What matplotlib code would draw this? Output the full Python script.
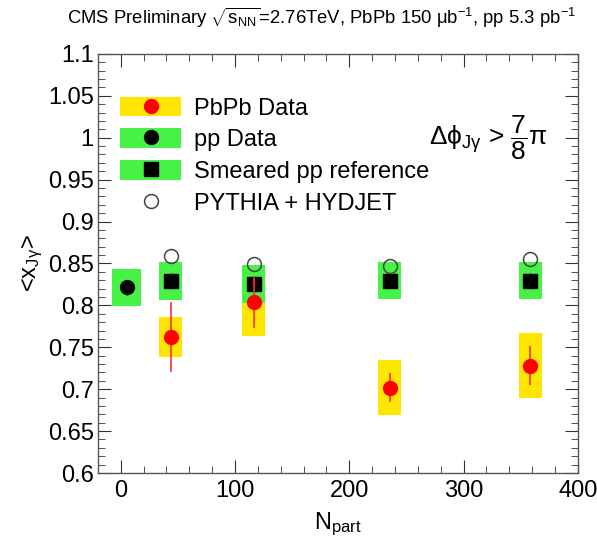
import numpy as np
import matplotlib
matplotlib.use('Agg')
import matplotlib.pyplot as plt
from matplotlib.patches import Rectangle, Patch
from matplotlib.lines import Line2D
from matplotlib.legend_handler import HandlerTuple
from matplotlib.ticker import MultipleLocator, FormatStrFormatter

plt.rcParams['font.family'] = ['Liberation Sans', 'DejaVu Sans']
plt.rcParams['mathtext.fontset'] = 'custom'
plt.rcParams['mathtext.rm'] = 'Liberation Sans'
plt.rcParams['mathtext.it'] = 'Liberation Sans:italic'
plt.rcParams['mathtext.bf'] = 'Liberation Sans:bold'

# PbPb data
pbpb_npart = [43.8, 116.2, 235.4, 358.5]
pbpb_x = [0.762, 0.804, 0.702, 0.728]
pbpb_stat = [0.042, 0.031, 0.017, 0.023]
pbpb_sys = [0.024, 0.041, 0.033, 0.039]

# pp data (plotted at low Npart)
pp_npart = [5.1]
pp_x = [0.8215]
pp_stat = [0.009]
pp_sys = [0.022]

# smeared pp reference
smr_npart = [43.8, 116.2, 235.4, 358.5]
smr_x = [0.8295, 0.8255, 0.8295, 0.8295]
smr_stat = [0.009, 0.009, 0.009, 0.009]
smr_sys = [0.0227, 0.0224, 0.0223, 0.0223]

# PYTHIA + HYDJET
mc_npart = [43.8, 116.2, 235.4, 358.5]
mc_x = [0.8593, 0.8494, 0.8474, 0.8557]

BOX_HW = 10   # half width of sys boxes in Npart units
PP_BOX_HW = 13

YELLOW = '#ffe600'
GREEN = '#47f247'

fig = plt.figure(figsize=(5.97, 5.39), dpi=100)
ax = fig.add_axes([0.164, 0.1224, 0.968 - 0.164, 0.900 - 0.1224])

# systematic boxes
for n, v, s in zip(pbpb_npart, pbpb_x, pbpb_sys):
    ax.add_patch(Rectangle((n - BOX_HW, v - s), 2 * BOX_HW, 2 * s,
                           facecolor=YELLOW, edgecolor='none', zorder=1))
for n, v, s in zip(pp_npart, pp_x, pp_sys):
    ax.add_patch(Rectangle((n - PP_BOX_HW, v - s), 2 * PP_BOX_HW, 2 * s,
                           facecolor=GREEN, edgecolor='none', zorder=2))
for n, v, s in zip(smr_npart, smr_x, smr_sys):
    ax.add_patch(Rectangle((n - BOX_HW, v - s), 2 * BOX_HW, 2 * s,
                           facecolor=GREEN, edgecolor='none', zorder=2))

ax.errorbar(pp_npart, pp_x, yerr=pp_stat, fmt='o', color='black', ms=10,
            elinewidth=1, capsize=0, zorder=3)
ax.errorbar(smr_npart, smr_x, yerr=smr_stat, fmt='s', color='black', ms=10,
            elinewidth=1, capsize=0, zorder=3)
ax.plot(mc_npart, mc_x, 'o', mfc='none', mec='#444444', mew=1.1, ms=10, zorder=4)
ax.errorbar(pbpb_npart, pbpb_x, yerr=pbpb_stat, fmt='o', color='red', ms=10,
            elinewidth=1.2, ecolor='#ff3030', capsize=0, zorder=5)

ax.set_xlim(-20, 400)
ax.set_ylim(0.6, 1.1)
ax.xaxis.set_major_locator(MultipleLocator(100))
ax.xaxis.set_minor_locator(MultipleLocator(20))
ax.yaxis.set_major_locator(MultipleLocator(0.05))
ax.yaxis.set_minor_locator(MultipleLocator(0.01))
ax.yaxis.set_major_formatter(FormatStrFormatter('%g'))
ax.tick_params(which='both', direction='in', top=True, right=True,
               labelsize=17, color='#333333')
ax.tick_params(axis='y', which='major', length=9.4, pad=3)
ax.tick_params(axis='x', which='major', length=9.4, pad=5)
ax.tick_params(which='minor', length=4.8)
for sp in ax.spines.values():
    sp.set_color('#555555')
    sp.set_linewidth(1)

ax.set_xlabel(r'N$_{\mathrm{part}}$', fontsize=17, labelpad=6)
ax.set_ylabel(r'<x$_{\mathrm{J\gamma}}$>', fontsize=17, labelpad=2)

fig.text(0.112, 0.966,
         r'CMS Preliminary $\sqrt{\mathrm{s_{NN}}}$=2.76TeV, PbPb 150 μb$^{-1}$, pp 5.3 pb$^{-1}$',
         fontsize=13.3, ha='left', va='center')

ax.text(0.9375, 0.80,
        r'$\mathrm{\Delta\phi}_{\mathrm{J\gamma}}$ > $\dfrac{7}{8}\mathrm{\pi}$',
        transform=ax.transAxes, fontsize=19, ha='right', va='center')

handles = [
    (Patch(facecolor=YELLOW, edgecolor='none'),
     Line2D([], [], marker='o', color='red', ls='none', ms=10)),
    (Patch(facecolor=GREEN, edgecolor='none'),
     Line2D([], [], marker='o', color='black', ls='none', ms=10)),
    (Patch(facecolor=GREEN, edgecolor='none'),
     Line2D([], [], marker='s', color='black', ls='none', ms=10)),
    Line2D([], [], marker='o', mfc='none', mec='#444444', mew=1.1, ls='none', ms=10),
]
labels = ['PbPb Data', 'pp Data', 'Smeared pp reference', 'PYTHIA + HYDJET']
ax.legend(handles, labels, handler_map={tuple: HandlerTuple(ndivide=1, pad=0)},
          loc='upper left', bbox_to_anchor=(0.046, 0.898), borderaxespad=0,
          borderpad=0, frameon=False, fontsize=17, handlelength=2.6,
          handleheight=0.9, labelspacing=0.37, handletextpad=0.55)

plt.savefig('out.png', dpi=100)
